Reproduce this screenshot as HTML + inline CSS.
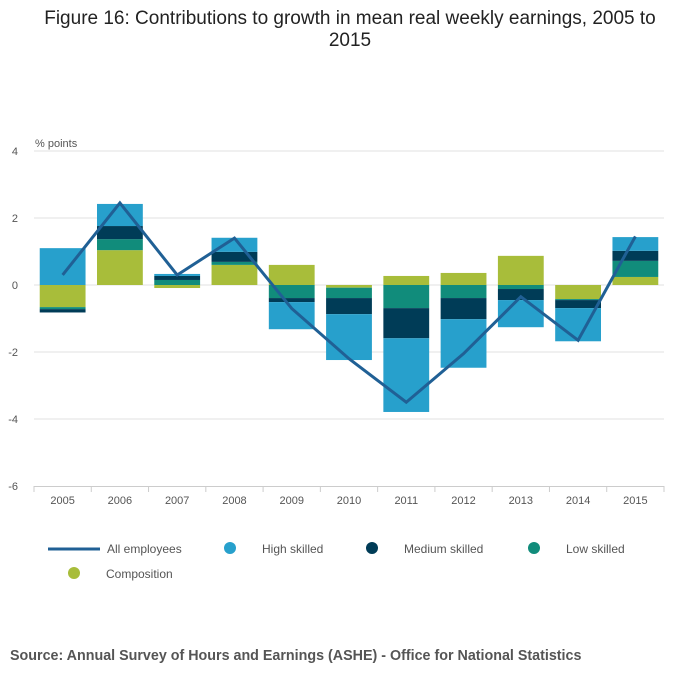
<!DOCTYPE html>
<html><head><meta charset="utf-8"><style>
body{margin:0;background:#fff;font-family:"Liberation Sans",sans-serif;}
</style></head><body>
<svg width="700" height="682" xmlns="http://www.w3.org/2000/svg" font-family="Liberation Sans, sans-serif">
<text x="350" y="24" text-anchor="middle" font-size="19" fill="#222">Figure 16: Contributions to growth in mean real weekly earnings, 2005 to</text>
<text x="350" y="46" text-anchor="middle" font-size="19" fill="#222">2015</text>
<text x="35" y="147" font-size="11" fill="#555">% points</text>
<g id="grid"></g><g id="bars"></g><g id="line"></g><g id="xlabels"></g>
<g font-size="12" fill="#555">
<line x1="48" y1="549" x2="100" y2="549" stroke="#206095" stroke-width="3"/>
<text x="107" y="553">All employees</text>
<circle cx="230" cy="548" r="6" fill="#27a0cc"/>
<text x="262" y="553">High skilled</text>
<circle cx="372" cy="548" r="6" fill="#003c57"/>
<text x="404" y="553">Medium skilled</text>
<circle cx="534" cy="548" r="6" fill="#118c7b"/>
<text x="566" y="553">Low skilled</text>
<circle cx="74" cy="573" r="6" fill="#a8bd3a"/>
<text x="106" y="578">Composition</text>
</g>
<text x="10" y="660" font-size="14.3" font-weight="bold" fill="#555">Source: Annual Survey of Hours and Earnings (ASHE) - Office for National Statistics</text>
</svg>
<script>
const categories=["2005","2006","2007","2008","2009","2010","2011","2012","2013","2014","2015"];
const composition=[-0.66,1.04,-0.09,0.6,0.6,-0.08,0.27,0.36,0.87,-0.42,0.24];
const lowSkilled=[-0.06,0.33,0.15,0.09,-0.39,-0.31,-0.69,-0.39,-0.12,-0.03,0.48];
const mediumSkilled=[-0.1,0.39,0.12,0.3,-0.12,-0.48,-0.9,-0.63,-0.33,-0.24,0.3];
const highSkilled=[1.1,0.66,0.06,0.42,-0.81,-1.37,-2.2,-1.45,-0.81,-0.99,0.41];
const allEmployees=[0.3,2.45,0.3,1.4,-0.7,-2.2,-3.5,-2.05,-0.35,-1.65,1.45];
const yTicks=[4,2,0,-2,-4,-6];
const NS="http://www.w3.org/2000/svg";
const x0=34,x1=664,bw=(x1-x0)/categories.length;
const y=v=>285-v*33.5;
const xc=i=>x0+bw*(i+0.5);
function mk(tag,attrs,parent){const e=document.createElementNS(NS,tag);for(const k in attrs)e.setAttribute(k,attrs[k]);parent.appendChild(e);return e;}
const grid=document.getElementById('grid');
yTicks.forEach(t=>{
 if(t>-6){const l=mk('line',{x1:x0,x2:x1,y1:y(t),y2:y(t),stroke:'#e0e0e0'},grid);
 
 }
 const tx=mk('text',{x:18,y:y(t)+4,'text-anchor':'end','font-size':11,fill:'#555'},grid);tx.textContent=t;
 
 
});
const ax=mk('line',{x1:x0,x2:x1,y1:486.5,y2:486.5,stroke:'#ccc'},grid);


for(let i=0;i<=categories.length;i++){mk('line',{x1:x0+bw*i,x2:x0+bw*i,y1:486,y2:492,stroke:'#ccc'},grid);}
const series=[[composition,'#a8bd3a','composition'],[lowSkilled,'#118c7b','low-skilled'],[mediumSkilled,'#003c57','medium-skilled'],[highSkilled,'#27a0cc','high-skilled']];
const bars=document.getElementById('bars');
categories.forEach((c,i)=>{
 let pos=0,neg=0;
 series.forEach(([arr,col,nm])=>{
  const v=arr[i];let a,b;
  if(v>=0){a=pos;b=pos+v;pos=b;}else{a=neg;b=neg+v;neg=b;}
  const r=mk('rect',{x:xc(i)-bw*0.4,width:bw*0.8,y:Math.min(y(a),y(b)),height:Math.abs(y(a)-y(b)),fill:col},bars);
  
  
 });
 const t=mk('text',{x:xc(i),y:504,'text-anchor':'middle','font-size':11,fill:'#555'},document.getElementById('xlabels'));t.textContent=c;
 
 
});
const p=mk('polyline',{points:allEmployees.map((v,i)=>xc(i)+','+y(v)).join(' '),fill:'none',stroke:'#206095','stroke-width':3,'stroke-linejoin':'miter'},document.getElementById('line'));


</script>
</body></html>
